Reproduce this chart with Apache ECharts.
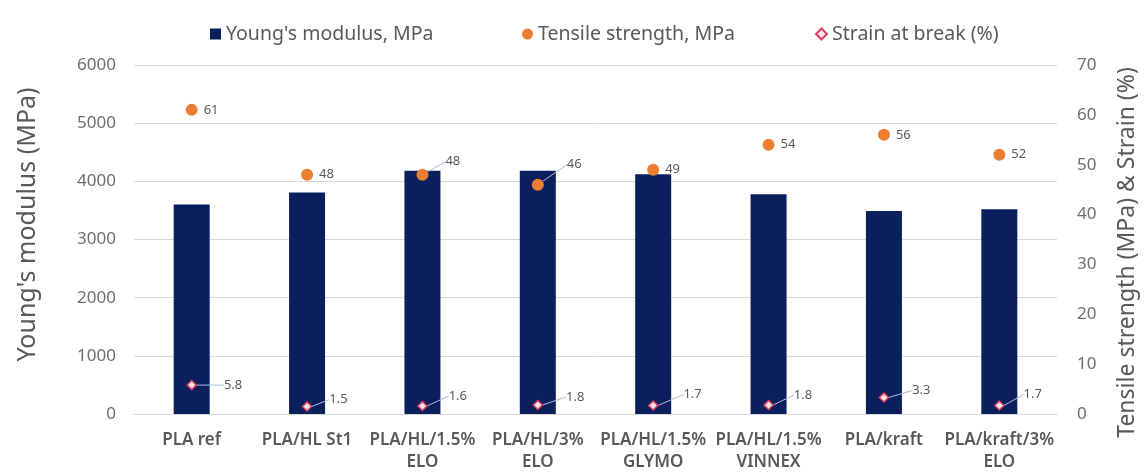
<!DOCTYPE html>
<html><head><meta charset="utf-8">
<script src="https://cdn.jsdelivr.net/npm/echarts@6/dist/echarts.min.js"></script>
<style>html,body{margin:0;padding:0;background:#fff}#c{width:1147px;height:473px}</style>
</head><body><div id="c"></div>
<script>
const categories = ['PLA ref','PLA/HL St1','PLA/HL/1.5%\nELO','PLA/HL/3%\nELO','PLA/HL/1.5%\nGLYMO','PLA/HL/1.5%\nVINNEX','PLA/kraft','PLA/kraft/3%\nELO'];
const youngsModulus = [3600,3810,4180,4180,4120,3780,3490,3520];
const tensileStrength = [61,48,48,46,49,54,56,52];
const strainAtBreak = [5.8,1.5,1.6,1.8,1.7,1.8,3.3,1.7];
const seriesNames = ["Young's modulus, MPa","Tensile strength, MPa","Strain at break (%)"];

// label offsets (styling only)
const tensileOffsets = [[0,0],[0,0],[11,-13],[17,-20],[0,0],[0,0],[0,0],[0,0]];
const strainOffsets = [[22,0],[12,-7],[16,-10],[18,-8],[20,-11],[15,-10],[18,-7],[14,-11]];

const FONT = 'Noto Sans';
const GRAY = '#595959';
const TICK = '#6E6E6E';
const LEADER = {color: '#A9BCDB', width: 1};
const chart = echarts.init(document.getElementById('c'));
const legendBase = {top: 19, itemWidth: 11, itemHeight: 11, itemGap: 4,
  textStyle: {fontFamily: FONT, fontSize: 19.5, color: GRAY}};
chart.setOption({
  animation: false,
  textStyle: {fontFamily: FONT},
  legend: [
    Object.assign({left: 205, data: [{name: seriesNames[0], icon: 'rect'}]}, legendBase),
    Object.assign({left: 517, data: [{name: seriesNames[1], icon: 'circle'}]}, legendBase),
    Object.assign({left: 810, data: [{name: seriesNames[2], icon: 'diamond'}]}, legendBase)
  ],
  grid: {left: 134, right: 85, top: 65, bottom: 57},
  xAxis: {
    type: 'category', data: categories,
    axisLine: {show: true, lineStyle: {color: '#D9D9D9'}},
    axisTick: {show: false},
    axisLabel: {interval: 0, margin: 15, fontFamily: FONT, fontSize: 17, fontWeight: 600, color: GRAY, lineHeight: 22}
  },
  yAxis: [
    {type: 'value', min: 0, max: 6000, interval: 1000,
     name: "Young's modulus (MPa)", nameLocation: 'middle', nameGap: 94,
     nameTextStyle: {fontFamily: FONT, fontSize: 25, color: GRAY, padding: [0, 0, 0, 30]},
     axisLine: {show: false}, axisTick: {show: false},
     axisLabel: {margin: 18, fontFamily: FONT, fontSize: 17, color: TICK, formatter: v => String(v)},
     splitLine: {lineStyle: {color: '#D9D9D9'}}},
    {type: 'value', min: 0, max: 70, interval: 10,
     name: 'Tensile strength (MPa) & Strain (%)', nameLocation: 'middle', nameGap: 59,
     nameTextStyle: {fontFamily: FONT, fontSize: 23, color: GRAY, padding: [0, 26, 0, 0]},
     axisLine: {show: false}, axisTick: {show: false},
     axisLabel: {margin: 20, fontFamily: FONT, fontSize: 17, color: TICK},
     splitLine: {show: false}}
  ],
  series: [
    {name: seriesNames[0], type: 'bar', data: youngsModulus, barWidth: 36,
     itemStyle: {color: '#0A1F5C'}, z: 1},
    {name: seriesNames[1], type: 'scatter', yAxisIndex: 1,
     data: tensileStrength.map((v, i) => ({value: v, labelLine: {show: tensileOffsets[i][0] !== 0}})),
     symbol: 'circle', symbolSize: 12,
     itemStyle: {color: '#ED7D31', opacity: 1}, z: 3,
     label: {show: true, position: 'right', distance: 6, fontSize: 13, color: GRAY, fontFamily: FONT},
     labelLine: {show: false, lineStyle: LEADER},
     labelLayout: p => ({dx: tensileOffsets[p.dataIndex][0], dy: tensileOffsets[p.dataIndex][1]})},
    {name: seriesNames[2], type: 'scatter', yAxisIndex: 1, data: strainAtBreak,
     symbol: 'diamond', symbolSize: 9,
     itemStyle: {color: '#FCE4EC', borderColor: '#E0405A', borderWidth: 1.5, opacity: 1}, z: 4,
     label: {show: true, position: 'right', distance: 5, fontSize: 13, color: GRAY, fontFamily: FONT},
     labelLine: {show: true, lineStyle: LEADER},
     labelLayout: p => ({dx: strainOffsets[p.dataIndex][0], dy: strainOffsets[p.dataIndex][1]})}
  ]
});
</script></body></html>
